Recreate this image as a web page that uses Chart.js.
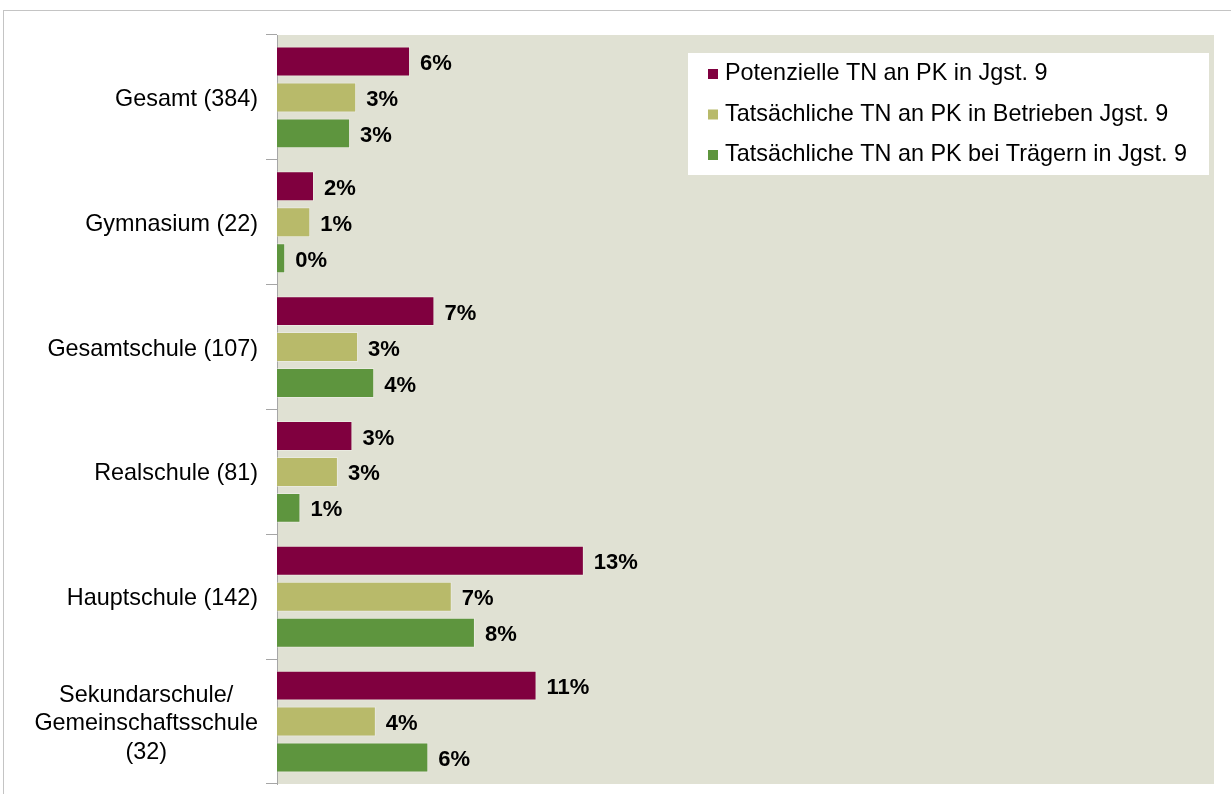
<!DOCTYPE html>
<html>
<head>
<meta charset="utf-8">
<script src="https://cdn.jsdelivr.net/npm/chart.js@4/dist/chart.umd.min.js"></script>
<style>
  html, body { margin: 0; padding: 0; background: #fff; overflow: hidden; }
  #frame { position: absolute; left: 3px; top: 10px; width: 1300px; height: 900px; border: 1px solid #c4c4c4; }
  #myChart { position: absolute; left: 0; top: 0; }
</style>
</head>
<body>
<div id="frame"></div>
<canvas id="myChart" width="1231" height="794"></canvas>
<script>
// categories (school types with n)
const categories = [
  'Gesamt (384)',
  'Gymnasium (22)',
  'Gesamtschule (107)',
  'Realschule (81)',
  'Hauptschule (142)',
  ['Sekundarschule/', 'Gemeinschaftsschule', '(32)']
]
const seriesNames = [
  'Potenzielle TN an PK in Jgst. 9',
  'Tatsächliche TN an PK in Betrieben Jgst. 9',
  'Tatsächliche TN an PK bei Trägern in Jgst. 9'
]
// values in percent
const potenzielle = [5.68, 1.58, 6.72, 3.22, 13.1, 11.08]
const betrieben = [3.38, 1.42, 3.46, 2.6, 7.46, 4.22]
const traeger = [3.12, 0.35, 4.15, 1.0, 8.45, 6.46]
const colors = ['#80003f', '#b8ba6a', '#5e953e']
const fontFam = '"Liberation Sans", Arial, sans-serif'

// plot background
const plotBg = {
  id: 'plotBg',
  beforeDraw(chart) {
    const a = chart.chartArea, ctx = chart.ctx
    ctx.save()
    ctx.fillStyle = '#e0e1d3'
    ctx.fillRect(a.left, a.top, a.right - a.left, a.bottom - a.top)
    ctx.restore()
  }
}

// category labels, multi line ones centred
const catLabels = {
  id: 'catLabels',
  afterDraw(chart) {
    const ctx = chart.ctx, y = chart.scales.y
    ctx.save()
    ctx.font = '23.4px ' + fontFam
    ctx.fillStyle = '#000'
    ctx.textBaseline = 'middle'
    categories.forEach(function(lab, i) {
      const lines = Array.isArray(lab) ? lab : [lab]
      const cy = y.getPixelForValue(i) + 2
      const maxW = Math.max.apply(null, lines.map(l => ctx.measureText(l).width))
      ctx.textAlign = 'center'
      lines.forEach(function(l, k) {
        ctx.fillText(l, 258 - maxW / 2, cy + (k - (lines.length - 1) / 2) * 28.5)
      })
    })
    ctx.restore()
  }
}

// value labels next to bars
const barLabels = {
  id: 'barLabels',
  afterDatasetsDraw(chart) {
    const ctx = chart.ctx
    ctx.save()
    ctx.font = 'bold 22px ' + fontFam
    ctx.fillStyle = '#000'
    ctx.textBaseline = 'middle'
    ctx.textAlign = 'left'
    chart.data.datasets.forEach(function(ds, i) {
      chart.getDatasetMeta(i).data.forEach(function(bar, j) {
        ctx.fillText(Math.round(ds.data[j]) + '%', bar.x + 10, bar.y + 2.5)
      })
    })
    ctx.restore()
  }
}

// legend in white box, top right of plot
const boxLegend = {
  id: 'boxLegend',
  afterDraw(chart) {
    const ctx = chart.ctx
    ctx.save()
    ctx.fillStyle = '#fff'
    ctx.fillRect(688, 53, 521, 122)
    ctx.font = '23.4px ' + fontFam
    ctx.textBaseline = 'middle'
    ctx.textAlign = 'left'
    chart.data.datasets.forEach(function(ds, i) {
      const cy = 74 + i * 40.5
      ctx.fillStyle = ds.backgroundColor
      ctx.fillRect(708, cy - 5, 10, 10)
      ctx.fillStyle = '#000'
      ctx.fillText(ds.label, 725, cy)
    })
    ctx.restore()
  }
}

const data = {
  labels: categories,
  datasets: [
    { label: seriesNames[0], data: potenzielle, backgroundColor: colors[0] },
    { label: seriesNames[1], data: betrieben, backgroundColor: colors[1] },
    { label: seriesNames[2], data: traeger, backgroundColor: colors[2] }
  ].map(ds => Object.assign(ds, {
    borderColor: 'rgba(255,255,255,0.3)',
    borderWidth: 1,
    categoryPercentage: 0.864,
    barPercentage: 0.833
  }))
}

const chart = new Chart(document.getElementById('myChart'), {
  type: 'bar',
  data: data,
  options: {
    indexAxis: 'y',
    responsive: false,
    animation: false,
    layout: { padding: { top: 35, right: 17, bottom: 10, left: 0 } },
    plugins: { legend: { display: false }, tooltip: { enabled: false } },
    scales: {
      x: { display: false, min: 0, max: 40 },
      y: {
        ticks: { display: false },
        grid: { drawOnChartArea: false, drawTicks: true, tickLength: 11, color: '#a6a6a6' },
        border: { display: true, color: '#a6a6a6', width: 1 },
        afterFit: function(s) { s.width = 277 }
      }
    }
  },
  plugins: [plotBg, barLabels, catLabels, boxLegend]
})
</script>
</body>
</html>
